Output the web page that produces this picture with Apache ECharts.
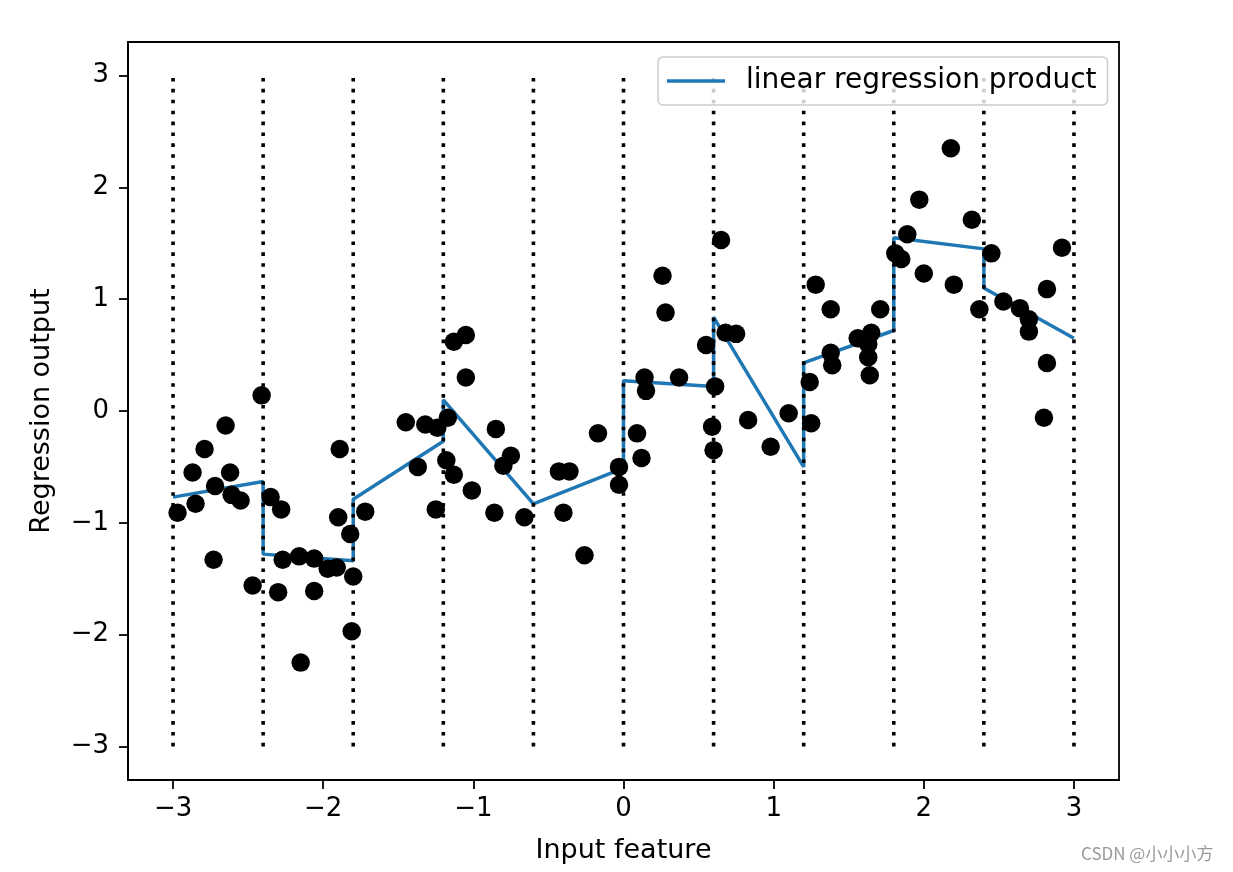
<!DOCTYPE html>
<html>
<head>
<meta charset="utf-8">
<script src="https://cdn.jsdelivr.net/npm/echarts@6/dist/echarts.min.js"></script>
<style>
  html, body { margin: 0; padding: 0; background: #fff; }
  #chart { width: 1233px; height: 872px; }
</style>
</head>
<body>
<div id="chart"></div>
<script>
  // bin edges (vertical dotted lines)
  const bins = [-3, -2.4, -1.8, -1.2, -0.6, 0, 0.6, 1.2, 1.8, 2.4, 3];
  // regression product output at the start / end of each bin
  const lineStart = [-0.77, -1.28, -0.79, 0.10, -0.83, 0.27, 0.84, 0.43, 1.55, 1.10];
  const lineEnd   = [-0.63, -1.34, -0.27, -0.83, -0.51, 0.22, -0.50, 0.72, 1.45, 0.65];
  // scatter points
  const pointX = [
    -2.41, -2.65, -2.79, -2.87, -2.62, -2.72, -2.61, -2.55, -2.85, -2.97,
    -2.73, -2.47, -2.35, -2.28, -2.27, -2.16, -2.06, -1.97, -1.91, -1.80,
    -2.30, -2.06, -2.15, -1.81, -1.89, -1.90, -1.82, -1.72,
    -1.05, -1.13, -1.05, -1.45, -1.32, -1.24, -1.17, -0.85, -0.17, -1.37,
    -1.18, -1.13, -1.01, -0.75, -0.80, -1.25, -0.86, -0.66, -0.43, -0.36,
    -0.40, -0.26, -0.03, -0.03,
    0.65, 0.26, 0.28, 0.55, 0.68, 0.75, 0.14, 0.15, 0.37, 0.61,
    0.09, 0.12, 0.83, 0.59, 0.60, 0.98, 1.10, 1.28, 1.38, 1.24,
    1.25, 1.38, 1.39, 1.56, 1.65, 1.63, 1.63, 1.64,
    2.18, 1.97, 2.32, 1.89, 1.81, 1.85, 2.45, 2.00, 2.20, 2.37,
    2.53, 2.64, 2.70, 2.70, 2.82, 2.92, 2.82, 2.80, 1.71
  ];
  const pointY = [
    0.14, -0.13, -0.34, -0.55, -0.55, -0.67, -0.75, -0.80, -0.83, -0.91,
    -1.33, -1.56, -0.77, -0.88, -1.33, -1.30, -1.32, -1.41, -1.40, -1.48,
    -1.62, -1.61, -2.25, -1.97, -0.34, -0.95, -1.10, -0.90,
    0.68, 0.62, 0.30, -0.10, -0.12, -0.15, -0.06, -0.16, -0.20, -0.50,
    -0.44, -0.57, -0.71, -0.40, -0.49, -0.88, -0.91, -0.95, -0.54, -0.54,
    -0.91, -1.29, -0.50, -0.66,
    1.53, 1.21, 0.88, 0.59, 0.70, 0.69, 0.30, 0.18, 0.30, 0.22,
    -0.20, -0.42, -0.08, -0.14, -0.35, -0.32, -0.02, 1.13, 0.91, 0.26,
    -0.11, 0.52, 0.41, 0.65, 0.70, 0.60, 0.48, 0.32,
    2.35, 1.89, 1.71, 1.58, 1.41, 1.36, 1.41, 1.23, 1.13, 0.91,
    0.98, 0.92, 0.82, 0.71, 1.09, 1.46, 0.43, -0.06, 0.91
  ];
  const xTicks = [-3, -2, -1, 0, 1, 2, 3];
  const yTicks = [-3, -2, -1, 0, 1, 2, 3];

  const font = 'DejaVu Sans';
  const minus = v => String(v).replace('-', '\u2212');

  let lineData = [];
  for (let i = 0; i < lineStart.length; i++) {
    lineData.push([bins[i], lineStart[i]]);
    lineData.push([bins[i + 1], lineEnd[i]]);
  }
  let scatterData = pointX.map((x, i) => [x, pointY[i]]);

  let series = [{
    name: 'linear regression product',
    type: 'line',
    data: lineData,
    symbol: 'none',
    color: '#1f77b4',
    lineStyle: { color: '#1f77b4', width: 3.5 },
    z: 2,
    animation: false
  }];
  bins.forEach(b => {
    series.push({
      name: 'bin' + b,
      type: 'line',
      data: [[b, -3], [b, 3]],
      symbol: 'none',
      silent: true,
      lineStyle: { color: '#000', width: 3.6, type: [3.6, 7.3] },
      z: 3,
      animation: false
    });
  });
  series.push({
    name: 'data',
    type: 'scatter',
    data: scatterData,
    symbol: 'circle',
    symbolSize: 18.5,
    itemStyle: { color: '#000', opacity: 1 },
    z: 4,
    animation: false
  });

  let myChart = echarts.init(document.getElementById('chart'));
  myChart.setOption({
    backgroundColor: '#fff',
    animation: false,
    grid: {
      left: 128, right: 114, top: 42, bottom: 92,
      show: true, borderColor: '#000', borderWidth: 1.8, backgroundColor: '#fff'
    },
    legend: {
      left: 658, top: 57, z: 10,
      data: [{ name: 'linear regression product', icon: 'rect' }],
      itemWidth: 58, itemHeight: 3.5,
      padding: [10, 11, 10, 9],
      backgroundColor: 'rgba(255,255,255,0.8)',
      borderColor: '#cccccc', borderWidth: 1.5, borderRadius: 5,
      textStyle: { fontFamily: font, fontSize: 28, color: '#000', lineHeight: 28, padding: [0, 0, 0, 16] }
    },
    xAxis: {
      type: 'value', min: -3.3, max: 3.3,
      name: 'Input feature', nameLocation: 'middle', nameGap: 57,
      nameTextStyle: { fontFamily: font, fontSize: 27, color: '#000' },
      axisLine: { show: true, onZero: false, lineStyle: { color: '#000', width: 1.8 } },
      axisTick: { show: true, customValues: xTicks, length: 9, lineStyle: { color: '#000', width: 1.8 } },
      axisLabel: { customValues: xTicks, formatter: minus, fontFamily: font, fontSize: 26, color: '#000', margin: 16 },
      splitLine: { show: false }
    },
    yAxis: {
      type: 'value', min: -3.3, max: 3.3,
      name: 'Regression output', nameLocation: 'middle', nameGap: 73,
      nameTextStyle: { fontFamily: font, fontSize: 27, color: '#000' },
      axisLine: { show: true, onZero: false, lineStyle: { color: '#000', width: 1.8 } },
      axisTick: { show: true, customValues: yTicks, length: 9, lineStyle: { color: '#000', width: 1.8 } },
      axisLabel: { customValues: yTicks, formatter: minus, fontFamily: font, fontSize: 26, color: '#000', margin: 19 },
      splitLine: { show: false }
    },
    graphic: [{
      type: 'text', left: 1081, top: 845,
      style: { text: 'CSDN @小小小方', fill: '#9a9a9a', font: '17px "Noto Sans CJK SC"' }
    }],
    series: series
  });
</script>
</body>
</html>
